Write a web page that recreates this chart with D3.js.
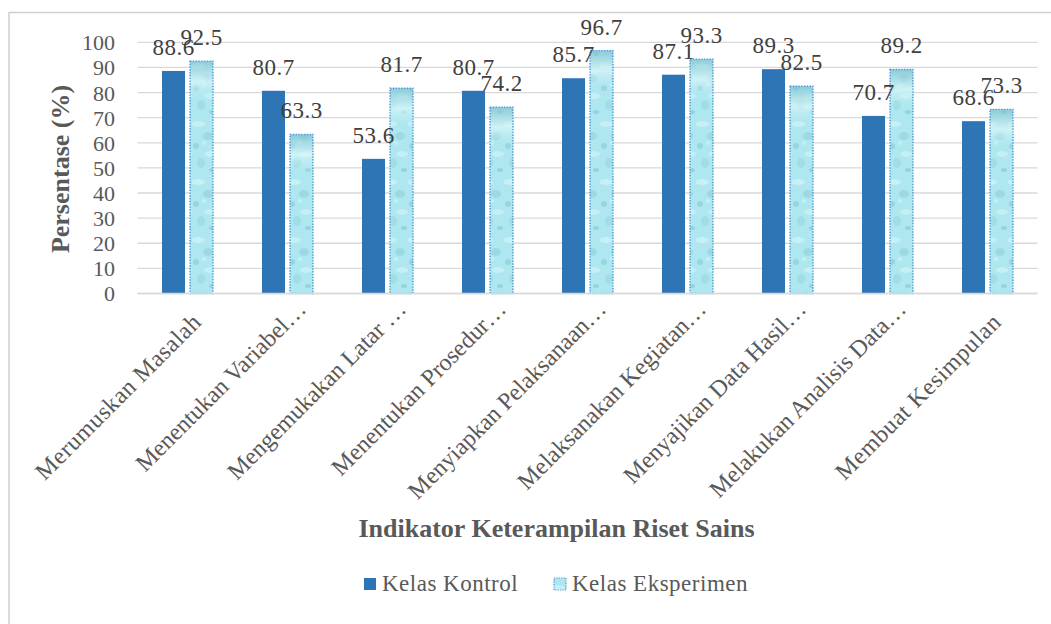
<!DOCTYPE html>
<html>
<head>
<meta charset="utf-8">
<script src="https://cdn.jsdelivr.net/npm/d3@7"></script>
<style>
  html, body { margin: 0; padding: 0; background: #fff; }
  svg { display: block; }
</style>
</head>
<body>
<svg id="chart" width="1051" height="624" font-family="'Liberation Serif', 'Times New Roman', Tinos, 'DejaVu Serif', serif"></svg>
<script>
// Indicator categories (labels as shown on the axis, long ones truncated)
const categories = [
  "Merumuskan Masalah",
  "Menentukan Variabel\u2026",
  "Mengemukakan Latar \u2026",
  "Menentukan Prosedur\u2026",
  "Menyiapkan Pelaksanaan\u2026",
  "Melaksanakan Kegiatan\u2026",
  "Menyajikan Data Hasil\u2026",
  "Melakukan Analisis Data\u2026",
  "Membuat Kesimpulan"
];
const kontrol    = [88.6, 80.7, 53.6, 80.7, 85.7, 87.1, 89.3, 70.7, 68.6];
const eksperimen = [92.5, 63.3, 81.7, 74.2, 96.7, 93.3, 82.5, 89.2, 73.3];
const seriesNames = ["Kelas Kontrol", "Kelas Eksperimen"];
const yTicks = [0, 10, 20, 30, 40, 50, 60, 70, 80, 90, 100];

const FONT = "'Liberation Serif', 'Times New Roman', Tinos, 'DejaVu Serif', serif";
const svg = d3.select("#chart");
const W = 1051, H = 624;
const plot = { left: 137.5, right: 1037.5, top: 42.3, bottom: 293.5 };

const textGray = "#595959";
const gridGray = "#d9d9d9";
const blue = "#2e75b6";

// Outer chart frame (top and left edges visible)
svg.append("path")
  .attr("d", `M9,${H} V12.5 H${W}`)
  .attr("fill", "none")
  .attr("stroke", "#d0d0d0")
  .attr("stroke-width", 1.5);

// Water-like texture for the experiment series
const defs = svg.append("defs");
const pat = defs.append("pattern")
  .attr("id", "water")
  .attr("patternUnits", "userSpaceOnUse")
  .attr("width", 24).attr("height", 58);
pat.append("rect").attr("width", 24).attr("height", 58).attr("fill", "#aee7ef");
const blobs = [
  [6, 8, 7, 3, "#cdf3f6", 0.8], [16, 20, 5, 4, "#86c9d3", 0.45],
  [4, 30, 3, 3, "#7fbfcb", 0.45], [18, 38, 6, 3, "#cdf3f6", 0.7],
  [9, 47, 4, 5, "#8dcdd6", 0.4], [20, 54, 3, 2, "#79bcc8", 0.45],
  [12, 27, 2.5, 2, "#c6f1f5", 0.8]
];
blobs.forEach(b => pat.append("ellipse")
  .attr("cx", b[0]).attr("cy", b[1]).attr("rx", b[2]).attr("ry", b[3])
  .attr("fill", b[4]).attr("opacity", b[5]));

const topShade = defs.append("linearGradient")
  .attr("id", "topShade").attr("x1", 0).attr("y1", 0).attr("x2", 0).attr("y2", 1);
topShade.append("stop").attr("offset", "0").attr("stop-color", "#6fb7c4").attr("stop-opacity", 0.55);
topShade.append("stop").attr("offset", "0.5").attr("stop-color", "#e4fafb").attr("stop-opacity", 0.6);
topShade.append("stop").attr("offset", "1").attr("stop-color", "#aee7ef").attr("stop-opacity", 0);

// Scales
const x0 = d3.scaleBand().domain(categories).range([plot.left, plot.right]).padding(0);
const y = d3.scaleLinear().domain([0, 100]).range([plot.bottom, plot.top]);
const barW = 23, barStep = 28;

// Gridlines
const grid = svg.append("g");
grid.selectAll("line").data(yTicks).join("line")
  .attr("x1", plot.left).attr("x2", plot.right)
  .attr("y1", d => y(d)).attr("y2", d => y(d))
  .attr("stroke", gridGray).attr("stroke-width", 1.3);

// Y axis tick labels
const yAxis = svg.append("g")
  .attr("transform", `translate(${plot.left - 22.5},0)`)
  .call(d3.axisLeft(y).tickValues(yTicks).tickSize(0).tickPadding(0))
  .attr("font-family", FONT)
  .attr("font-size", 22);
yAxis.select(".domain").remove();
yAxis.selectAll("text")
  .attr("fill", textGray)
  .attr("dy", "0.34em");

// Bars
const groups = categories.map((c, i) => ({ c, k: kontrol[i], e: eksperimen[i] }));
const cx = d => x0(d.c) + x0.bandwidth() / 2;

svg.append("g").selectAll("rect").data(groups).join("rect")
  .attr("x", d => cx(d) - barStep / 2 - barW / 2)
  .attr("y", d => y(d.k))
  .attr("width", barW)
  .attr("height", d => y(0) - y(d.k))
  .attr("fill", blue);

const eg = svg.append("g");
eg.selectAll("rect.fill").data(groups).join("rect")
  .attr("class", "fill")
  .attr("x", d => cx(d) + barStep / 2 - barW / 2)
  .attr("y", d => y(d.e))
  .attr("width", barW)
  .attr("height", d => y(0) - y(d.e))
  .attr("fill", "url(#water)");
eg.selectAll("rect.shade").data(groups).join("rect")
  .attr("class", "shade")
  .attr("x", d => cx(d) + barStep / 2 - barW / 2)
  .attr("y", d => y(d.e))
  .attr("width", barW)
  .attr("height", 40)
  .attr("fill", "url(#topShade)");
eg.selectAll("rect.edge").data(groups).join("rect")
  .attr("class", "edge")
  .attr("x", d => cx(d) + barStep / 2 - barW / 2)
  .attr("y", d => y(d.e))
  .attr("width", barW)
  .attr("height", d => y(0) - y(d.e))
  .attr("fill", "none")
  .attr("stroke", "#4f95dc")
  .attr("stroke-width", 1.4)
  .attr("stroke-dasharray", "1.4,1.4");

// Baseline
svg.append("line")
  .attr("x1", plot.left).attr("x2", plot.right)
  .attr("y1", y(0)).attr("y2", y(0))
  .attr("stroke", gridGray).attr("stroke-width", 1.5);

// Data labels
const labels = svg.append("g")
  .attr("fill", "#404040")
  .attr("font-family", FONT)
  .attr("font-size", 23)
  .attr("letter-spacing", 0.5)
  .attr("text-anchor", "middle");
labels.selectAll("text.k").data(groups).join("text")
  .attr("class", "k")
  .attr("x", d => cx(d) - barStep / 2)
  .attr("y", d => y(d.k) - 16)
  .text(d => d.k.toFixed(1));
labels.selectAll("text.e").data(groups).join("text")
  .attr("class", "e")
  .attr("x", d => cx(d) + barStep / 2)
  .attr("y", d => y(d.e) - 16)
  .text(d => d.e.toFixed(1));

// Category labels, rotated; truncated ones sit slightly further along their baseline
const truncated = d => d.endsWith("\u2026");
svg.append("g")
  .attr("font-family", FONT)
  .attr("font-size", 24)
  .selectAll("text").data(categories).join("text")
  .attr("transform", d => {
    const c = x0(d) + x0.bandwidth() / 2;
    return truncated(d)
      ? `translate(${c + 20},${plot.bottom + 17}) rotate(-45)`
      : `translate(${c + 15},${plot.bottom + 30}) rotate(-45)`;
  })
  .attr("letter-spacing", d => truncated(d) ? 0 : 0.5)
  .attr("text-anchor", "end")
  .attr("fill", textGray)
  .text(d => d);

// Axis titles
svg.append("text")
  .attr("transform", `translate(69,169) rotate(-90)`)
  .attr("text-anchor", "middle")
  .attr("fill", textGray)
  .attr("font-family", FONT)
  .attr("font-size", 26).attr("font-weight", "bold")
  .text("Persentase (%)");

svg.append("text")
  .attr("x", 556.5).attr("y", 537)
  .attr("text-anchor", "middle")
  .attr("fill", textGray)
  .attr("font-family", FONT)
  .attr("font-size", 26).attr("font-weight", "bold")
  .text("Indikator Keterampilan Riset Sains");

// Legend
const legend = svg.append("g")
  .attr("font-family", FONT)
  .attr("font-size", 23)
  .attr("letter-spacing", 0.5);
const legendItems = [
  { name: seriesNames[0], x: 364, fill: blue, dashed: false },
  { name: seriesNames[1], x: 554, fill: "url(#water)", dashed: true }
];
legendItems.forEach(it => {
  legend.append("rect")
    .attr("x", it.x).attr("y", 578).attr("width", 12).attr("height", 12)
    .attr("fill", it.fill)
    .attr("stroke", it.dashed ? "#4f95dc" : "none")
    .attr("stroke-width", it.dashed ? 1.2 : 0)
    .attr("stroke-dasharray", it.dashed ? "1.2,1.2" : null);
  legend.append("text")
    .attr("x", it.x + 18).attr("y", 591)
    .attr("fill", textGray)
    .text(it.name);
});
</script>
</body>
</html>
